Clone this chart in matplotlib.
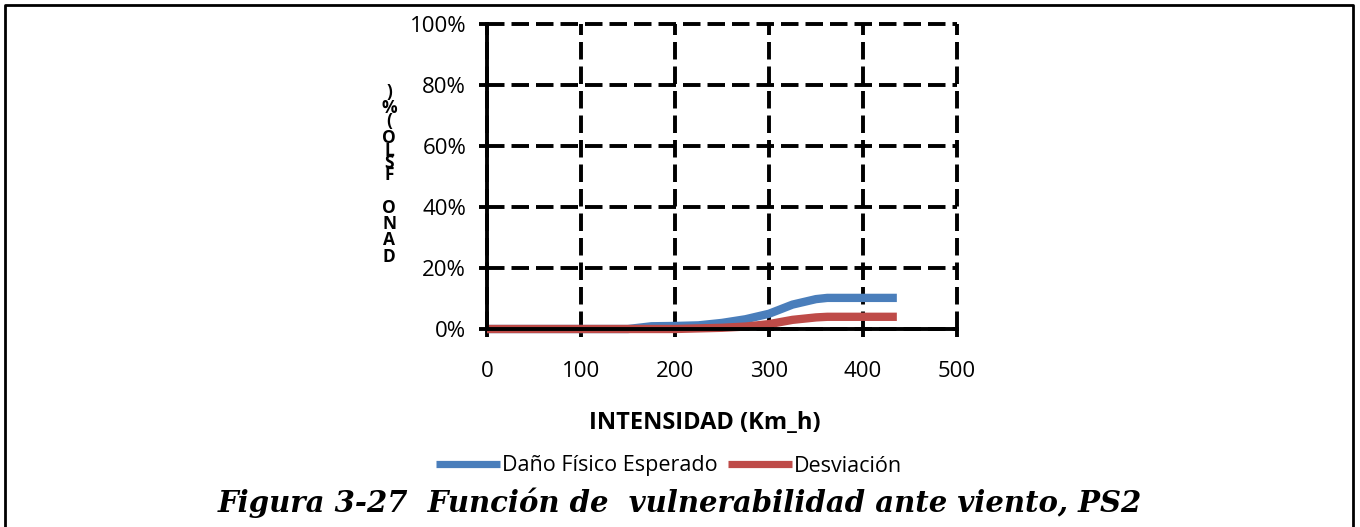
import matplotlib
matplotlib.use("Agg")
import matplotlib.pyplot as plt
from matplotlib.lines import Line2D

intensidad = [0, 50, 100, 150, 175, 200, 225, 250, 275, 300, 325, 350, 362, 400, 436]
dano = [0, 0, 0, 0, 0.9, 1.0, 1.2, 2.0, 3.2, 5.0, 8.0, 9.8, 10.2, 10.2, 10.2]
desv = [0, 0, 0, 0, 0, 0, 0.2, 0.4, 0.8, 1.6, 3.0, 3.8, 4.0, 4.0, 4.0]
x_ticks = [0, 100, 200, 300, 400, 500]
y_ticks = [0, 20, 40, 60, 80, 100]
series_names = ["Daño Físico Esperado", "Desviación"]
ylabel_chars = ["D", "A", "N", "O", "F", "S", "L", "O", "(", "%", ")"]
ylabel_y = [257, 240, 224, 208, 175, 163, 151, 138, 121, 108, 92]

W, H = 1360, 527
fig = plt.figure(figsize=(W / 100, H / 100), dpi=100)
ax = fig.add_axes([487 / W, 1 - 329 / H, (957 - 487) / W, (329 - 24) / H])

blue = "#4A7EBB"
red = "#BE4B48"
ax.plot(intensidad, dano, color=blue, lw=6.0, solid_capstyle="butt", solid_joinstyle="round", zorder=3, clip_on=False)
ax.plot(intensidad, desv, color=red, lw=6.0, solid_capstyle="butt", solid_joinstyle="round", zorder=4, clip_on=False)

ax.set_xlim(0, 500)
ax.set_ylim(0, 100)
ax.set_xticks(x_ticks)
ax.set_yticks(y_ticks)
ax.set_yticklabels([f"{v}%" for v in y_ticks])
for lab in ax.get_xticklabels() + ax.get_yticklabels():
    lab.set_fontfamily("Open Sans")
    lab.set_fontsize(16)
ax.tick_params(axis="both", direction="out", length=6, width=2.8, color="black", labelcolor="black")
ax.tick_params(axis="x", pad=17)
ax.tick_params(axis="y", pad=9)
ax.grid(True, color="black", linestyle=(0, (4.5, 1.8)), linewidth=2.8, zorder=1)
for gl in ax.get_xgridlines() + ax.get_ygridlines():
    gl.set_clip_on(False)
for s in ["top", "right"]:
    ax.spines[s].set_visible(False)
for s in ["left", "bottom"]:
    ax.spines[s].set_linewidth(2.8)
    ax.spines[s].set_zorder(5)
ax.set_axisbelow(True)

fig.text(705 / W, 1 - 423 / H, "INTENSIDAD (Km_h)", ha="center", va="center",
         fontfamily="Open Sans", fontweight="bold", fontsize=17)

for ch, yy in zip(ylabel_chars, ylabel_y):
    fig.text(389 / W, 1 - yy / H, ch, ha="center", va="center",
             fontfamily="Open Sans", fontweight="bold", fontsize=12.5)

# legend
handles = [Line2D([], [], color=blue, lw=5.2, solid_capstyle="butt"),
           Line2D([], [], color=red, lw=5.2, solid_capstyle="butt")]
fig.legend(handles, series_names, loc="center", bbox_to_anchor=(669 / W, 1 - 466 / H),
           ncol=2, frameon=False, handlelength=3.0, handletextpad=0.1, columnspacing=0.45,
           prop=dict(family="Open Sans", size=15.5))

fig.text(680 / W, 1 - 503 / H, "Figura 3-27  Función de  vulnerabilidad ante viento, PS2",
         ha="center", va="center", fontfamily="DejaVu Serif", fontstyle="italic",
         fontweight="bold", fontsize=21)

# outer frame (left, top, right)
fig.add_artist(Line2D([5 / W, 5 / W, 1353 / W, 1353 / W], [0, 1 - 5 / H, 1 - 5 / H, 0],
                      color="black", lw=2, transform=fig.transFigure))

fig.savefig("out.png", dpi=100)
